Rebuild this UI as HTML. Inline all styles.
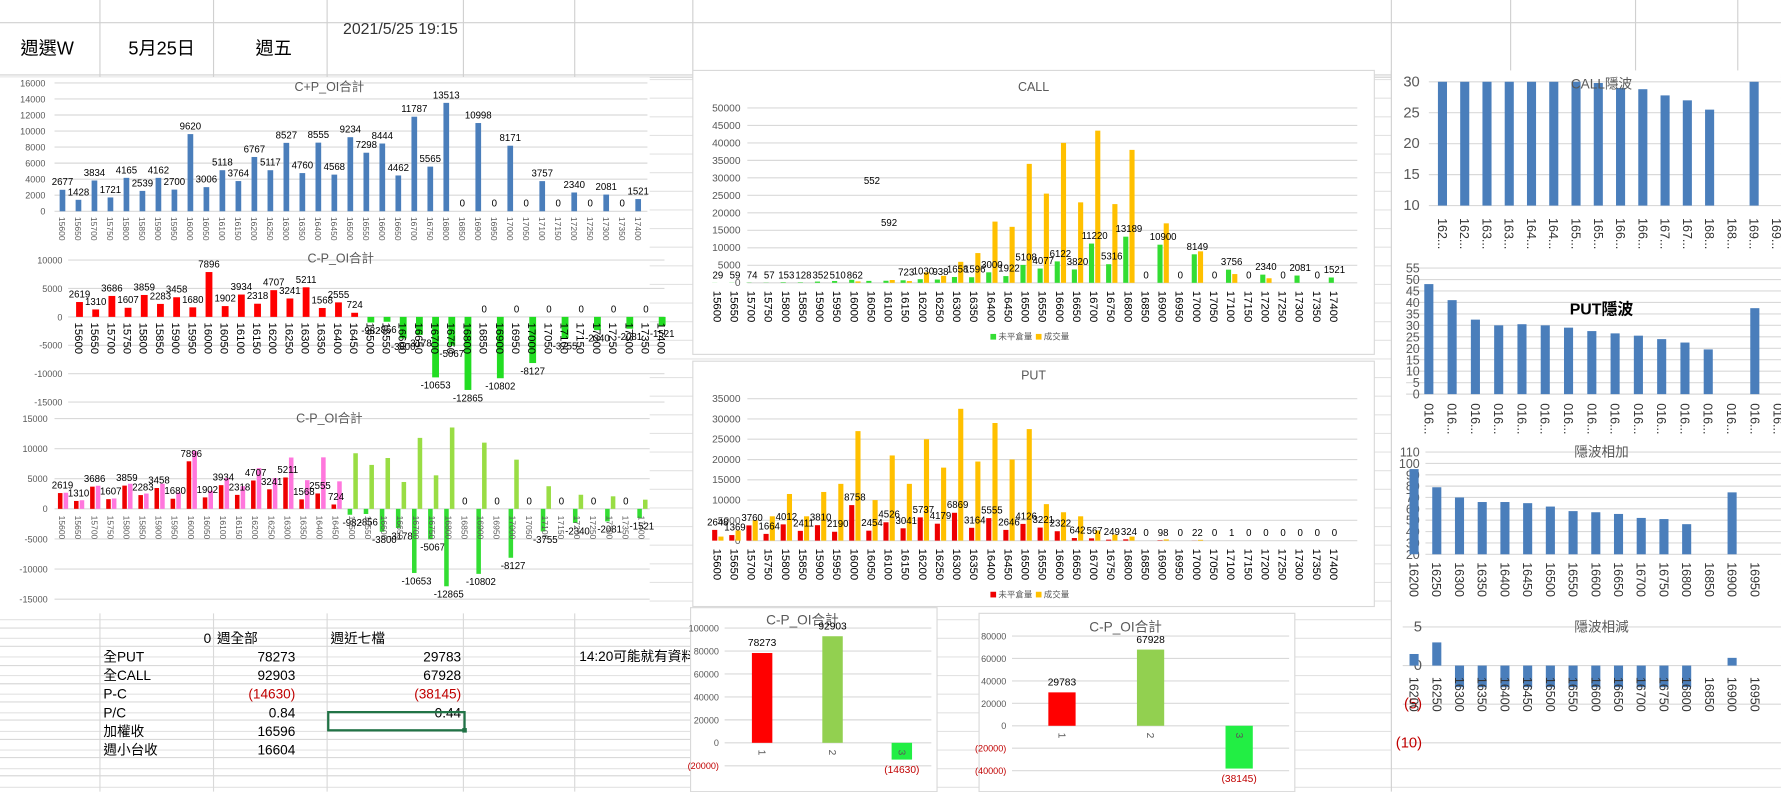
<!DOCTYPE html>
<html><head><meta charset="utf-8">
<style>
html,body{margin:0;padding:0;background:#fff;width:1781px;height:792px;overflow:hidden}
svg{display:block}
text{font-family:"Liberation Sans","Noto Sans CJK TC",sans-serif}
</style></head>
<body>
<svg id="s0" width="1781" height="792" xmlns="http://www.w3.org/2000/svg"><g id="s" transform="scale(1.1358)"></g></svg>
<script>
const S=document.getElementById('s');const NS='http://www.w3.org/2000/svg';
const B=697;
function el(t,a,txt){const e=document.createElementNS(NS,t);for(const k in a)e.setAttribute(k,a[k]);if(txt!==undefined)e.textContent=txt;S.appendChild(e);return e;}
function line(x1,y1,x2,y2,c,w){el('line',{x1,y1,x2,y2,stroke:c||'#d9d9d9','stroke-width':w||1});}
function rect(x,y,w,h,f,st){const a={x,y,width:w,height:h,fill:f};if(st){a.stroke=st;}el('rect',a);}
function txt(x,y,s,o){o=o||{};const a={x,y,'font-size':o.fs||9,fill:o.c||'#000'};if(o.a)a['text-anchor']=o.a;if(o.r)a.transform=`rotate(${o.r} ${x} ${y})`;if(o.w)a['font-weight']=o.w;if(o.f)a['font-family']=o.f;el('text',a,s);}
for(let y=70;y<B;y+=16.4)line(0,y,1568,y,'#e3e3e3');
line(0,20,1568,20,'#d0d0d0');line(0,66,1568,66,'#d0d0d0');line(0,68,1568,68,'#d0d0d0');
[88,188,288,408,506,610,1225,1330,1440,1530].forEach(x=>line(x,0,x,70,'#d0d0d0'));
const serif='"Liberation Serif","Noto Serif CJK SC",serif';
txt(18,48,'週選W',{fs:16,f:serif});txt(113,48,'5月25日',{fs:16,f:serif});txt(225,48,'週五',{fs:16,f:serif});
txt(302,30,'2021/5/25 19:15',{fs:14,f:serif,c:'#333'});
const K=[];for(let k=15600;k<=17400;k+=50)K.push(k);
rect(0,68,572,140,'#fff');
const cp=[2677,1428,3834,1721,4165,2539,4162,2700,9620,3006,5118,3764,6767,5117,8527,4760,8555,4568,9234,7298,8444,4462,11787,5565,13513,0,10998,0,8171,0,3757,0,2340,0,2081,0,1521];
{const z=186,s=113/16000;for(let v=0;v<=16000;v+=2000){const y=z-v*s;line(48,y,570,y);txt(40,y+3,v,{fs:8,a:'end',c:'#595959'});}
txt(290,80,'C+P_OI合計',{fs:11,c:'#595959',a:'middle'});
cp.forEach((v,i)=>{const x=55+i*14.08;rect(x-2.5,z-v*s,5,v*s,'#4a7ebb');txt(x,z-v*s-4,v,{fs:8.5,a:'middle'});txt(x-3,191,K[i],{fs:7.5,r:90,c:'#595959'});});}
rect(0,212,572,143,'#fff');
const dm=[2619,1310,3686,1607,3859,2283,3458,1680,7896,1902,3934,2318,4707,3241,5211,1568,2555,724,-982,-856,-3800,-3178,-10653,-5067,-12865,0,-10802,0,-8127,0,-3755,0,-2340,0,-2081,0,-1521];
{const z=279,s=25/5000;for(let v=10000;v>=-15000;v-=5000){const y=z-v*s;line(60,y,585,y);txt(55,y+3,v,{fs:8,a:'end',c:'#595959'});}
txt(300,231,'C-P_OI合計',{fs:11,c:'#595959',a:'middle'});
dm.forEach((v,i)=>{const x=70+i*14.25;const h=Math.abs(v)*s;if(v>=0){rect(x-3,z-h,6,h,'#ff0000');txt(x,z-h-4,v,{fs:8.5,a:'middle'});}else{rect(x-3,z,6,h,'#22dd22');txt(x,z+h+10,v,{fs:8.5,a:'middle'});}
txt(x-4,284,K[i],{fs:10,r:90});});}
rect(0,358,572,178,'#fff');
{const z=448,s=26.5/5000;for(let v=15000;v>=-15000;v-=5000){const y=z-v*s;line(48,y,572,y);txt(42,y+3,v,{fs:8,a:'end',c:'#595959'});}
txt(290,372,'C-P_OI合計',{fs:11,c:'#595959',a:'middle'});
dm.forEach((v,i)=>{const x=55+i*14.17;const h=Math.abs(v)*s,h2=cp[i]*s;
rect(x+1,z-h2,4,h2,v>=0?'#ff77dd':'#99dd44');
if(v>=0){rect(x-4,z-h,4,h,'#ee0000');txt(x,z-h-4,v,{fs:8.5,a:'middle'});}else{rect(x-4,z,4,h,'#33dd33');txt(x,z+h+10,v,{fs:8.5,a:'middle'});}
txt(x-3,454,K[i],{fs:7.5,r:90,c:'#595959'});});}
rect(610,62,600,250,'#fff','#d9d9d9');
const co=[29,59,74,57,153,128,352,510,862,552,592,723,1030,938,1658,1596,3000,1922,5108,4077,6122,3820,11220,5316,13189,0,10900,0,8149,0,3756,0,2340,0,2081,0,1521];
const cv=[0,0,0,0,0,0,0,0,400,0,800,500,3000,2000,6000,8500,17500,16000,34000,25500,40000,23000,43500,22500,38000,0,17000,0,9000,0,2500,0,1300,0,0,0,0];
{const z=249,s=154/50000;for(let v=0;v<=50000;v+=5000){const y=z-v*s;line(658,y,1195,y);txt(652,y+3,v,{fs:9,a:'end',c:'#595959'});}
txt(910,80,'CALL',{fs:11,c:'#595959',a:'middle'});
co.forEach((v,i)=>{const x=632+i*15.08;rect(x-5,z-v*s,4.5,v*s,'#33dd33');rect(x+0.5,z-cv[i]*s,4.5,cv[i]*s,'#ffc000');
let ly=z-v*s-4;if(i==9)ly=162;if(i==10)ly=199;if(i<9)ly=z-4;txt(x,ly,v,{fs:8.5,a:'middle'});txt(x-4,256,K[i],{fs:10,r:90});});
rect(872,294,5,5,'#33dd33');txt(879,299,'未平倉量',{fs:7.5,c:'#595959'});rect(912,294,5,5,'#ffc000');txt(919,299,'成交量',{fs:7.5,c:'#595959'});}
rect(610,318,600,216,'#fff','#d9d9d9');
const po=[2648,1369,3760,1664,4012,2411,3810,2190,8758,2454,4526,3041,5737,4179,6869,3164,5555,2646,4126,3221,2322,642,567,249,324,0,98,0,22,0,1,0,0,0,0,0,0];
const pv=[1000,2500,5000,6000,11500,6000,12000,14000,27000,10000,21000,14000,25000,18000,32500,19500,29000,20000,27500,9000,7000,6000,2500,1500,1000,0,300,0,200,0,0,0,0,0,0,0,0];
{const z=476,s=125/35000;for(let v=0;v<=35000;v+=5000){const y=z-v*s;line(658,y,1195,y);txt(652,y+3,v,{fs:9,a:'end',c:'#595959'});}
txt(910,334,'PUT',{fs:11,c:'#595959',a:'middle'});
po.forEach((v,i)=>{const x=632+i*15.08;rect(x-5,z-v*s,4.5,v*s,'#ee0000');rect(x+0.5,z-pv[i]*s,4.5,pv[i]*s,'#ffc000');
txt(x,i<25?z-v*s-4:z-4,v,{fs:8.5,a:'middle'});txt(x-4,483,K[i],{fs:10,r:90});});
rect(872,521,5,5,'#ee0000');txt(879,526,'未平倉量',{fs:7.5,c:'#595959'});rect(912,521,5,5,'#ffc000');txt(919,526,'成交量',{fs:7.5,c:'#595959'});}
function rbar(y0,h,title,tOpt,ticks,zy,s,lx,gx1,xs,dxs,vals,labs,labY,lfs,tickFmt,tfs,base){
base=base||0;
rect(1225,y0,343,h,'#fff');
ticks.forEach(v=>{const y=zy-v*s;line(gx1,y,1568,y);txt(lx,y+4,tickFmt?tickFmt(v):v,{fs:tfs||13,a:'end',c:(v<0?'#c00000':'#595959')});});
vals.forEach((v,i)=>{if(v===null)return;const x=xs+i*dxs;const top=zy-Math.max(v,base)*s,bot=zy-Math.min(v,base)*s;rect(x-4,top,8,bot-top,'#4a7ebb');});
labs.forEach((l,i)=>{const x=xs+i*dxs;txt(x-4,labY,l,{fs:lfs,r:90,c:'#333'});});
txt(1410,tOpt.y,title,tOpt.o);}
rbar(62,165,'CALL隱波',{y:78,o:{fs:12,c:'#595959',a:'middle'}},[10,15,20,25,30],235.5,5.45,1250,1258,1270,19.6,
[30,30,30,30,30,30,30,29.8,29,28.8,27.8,27,25.5,null,30],['162...','162...','163...','163...','164...','164...','165...','165...','166...','166...','167...','167...','168...','168...','169...','169...'],192,11,null,13,10);
rbar(228,158,'PUT隱波',{y:277,o:{fs:14,w:'bold',a:'middle'}},[0,5,10,15,20,25,30,35,40,45,50,55],347,111/55,1250,1238,1258,20.5,
[48,41,32.5,30,30.5,30,29,27.5,26.5,25.5,24,22.5,19.5,null,37.5],['016...','016...','016...','016...','016...','016...','016...','016...','016...','016...','016...','016...','016...','016...','016...','016...'],355,11,null,11);
rbar(390,145,'隱波相加',{y:402,o:{fs:12,c:'#595959',a:'middle'}},[20,30,40,50,60,70,80,90,100,110],508,1,1250,1255,1245,20,
[95,79,70,66,66,65,62,58,57,55.5,52,51,46.5,null,74.5],[16200,16250,16300,16350,16400,16450,16500,16550,16600,16650,16700,16750,16800,16850,16900,16950],495,11,null,11,20);
rbar(540,130,'隱波相減',{y:556,o:{fs:12,c:'#595959',a:'middle'}},[5,0,-5,-10],586,6.8,1252,1235,1245,20,
[1.5,3,-2.8,-2.8,-2.8,-2.8,-2.8,-2.8,-2.8,-2.8,-2.8,-2.8,-2.8,null,1],[16200,16250,16300,16350,16400,16450,16500,16550,16600,16650,16700,16750,16800,16850,16900,16950],596,11,v=>v<0?'('+(-v)+')':v);
line(1225,62,1225,B,'#d0d0d0');
[553,569,586,602,618,634,651,667,683].forEach(y=>line(0,y,610,y,'#d9d9d9'));
[88,188,288,408,506].forEach(x=>line(x,540,x,B,'#d9d9d9'));
const T=[['','0','週全部','週近七檔'],['全PUT','78273','','29783'],['全CALL','92903','','67928'],['P-C','(14630)','','(38145)'],['P/C','0.84','','0.44'],['加權收','16596','',''],['週小台收','16604','','']];
T.forEach((r,i)=>{const y=566+i*16.4;const c=i==3?'#c00000':'#000';
if(r[0])txt(91,y,r[0],{fs:12,f:serif});
if(i==0){txt(186,y,'0',{fs:12,a:'end',f:serif});txt(191,y,'週全部',{fs:12,f:serif});txt(291,y,'週近七檔',{fs:12,f:serif});}
else{txt(260,y,r[1],{fs:12,a:'end',c,f:serif});if(r[3])txt(406,y,r[3],{fs:12,a:'end',c,f:serif});}});
txt(510,582,'14:20可能就有資料了',{fs:12,f:serif});
el('rect',{x:289,y:627,width:120,height:16,fill:'none',stroke:'#217346','stroke-width':2});rect(407,641,4,4,'#217346');
function small(x0,x1,y0,title,z,s,ticks,bars,lx,ty){
rect(x0,y0,x1-x0,B-y0,'#fff','#d9d9d9');
ticks.forEach(v=>{const y=z-v*s;if(y>B-3)return;line(lx+5,y,x1-5,y);txt(lx,y+3,v<0?'('+(-v)+')':v,{fs:8,a:'end',c:v<0?'#c00000':'#595959'});});
txt((x0+x1)/2-10,ty,title,{fs:12,c:'#595959',a:'middle'});
bars.forEach((b,i)=>{const[x,v,c,w]=b;const h=Math.abs(v)*s;if(v>=0){rect(x-w/2,z-h,w,h,c);txt(x,z-h-6,v,{fs:9,a:'middle'});}else{rect(x-w/2,z,w,h,c);txt(x,z+h+12,'('+(-v)+')',{fs:9,a:'middle',c:'#c00000'});}
txt(x-3,z+6,String(i+1),{fs:9,r:90,c:'#595959'});});}
small(608,825,535,'C-P_OI合計',654,20.2/20000,[100000,80000,60000,40000,20000,0,-20000,-40000],[[671,78273,'#ff0000',18],[733,92903,'#92d050',18],[794,-14630,'#22ee44',18]],633,550);
small(862,1140,540,'C-P_OI合計',639,19.75/20000,[80000,60000,40000,20000,0,-20000,-40000],[[935,29783,'#ff0000',24],[1013,67928,'#92d050',24],[1091,-38145,'#22ee44',24]],886,556);
</script>
</body></html>
